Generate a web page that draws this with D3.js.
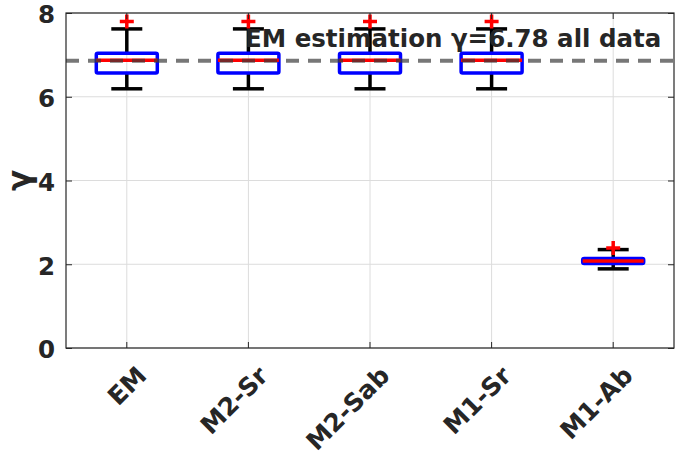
<!DOCTYPE html>
<html>
<head>
<meta charset="utf-8">
<script src="https://cdn.jsdelivr.net/npm/d3@7"></script>
<style>
  body { margin: 0; background: #fff; }
  svg text { font-family: "DejaVu Sans", sans-serif; font-weight: bold; fill: #262626; }
</style>
</head>
<body>
<div id="chart"></div>
<script>
// box plot of gamma estimates per method
const methods = ['EM', 'M2-Sr', 'M2-Sab', 'M1-Sr', 'M1-Ab'];
const q1 = [6.57, 6.57, 6.57, 6.57, 2.02];
const median = [6.87, 6.87, 6.87, 6.87, 2.08];
const q3 = [7.04, 7.04, 7.04, 7.04, 2.14];
const whiskerLow = [6.19, 6.19, 6.19, 6.19, 1.89];
const whiskerHigh = [7.62, 7.62, 7.62, 7.62, 2.35];
const outliers = [[7.80], [7.80], [7.80], [7.80], [2.39]];
const emLevel = 6.86;
const yTicks = [0, 2, 4, 6, 8];
const note = 'EM estimation \u03b3=6.78 all data';

const svgWidth = 684;
const svgHeight = 456;
const margin = { top: 13, right: 10, bottom: 108, left: 66 };
const width = svgWidth - margin.left - margin.right;
const height = svgHeight - margin.top - margin.bottom;

const boxes = methods.map((m, i) => ({
    method: m, q1: q1[i], median: median[i], q3: q3[i],
    lo: whiskerLow[i], hi: whiskerHigh[i], out: outliers[i]
}));

const svg = d3.select('#chart')
    .append('svg')
    .attr('width', svgWidth)
    .attr('height', svgHeight)
    .append('g')
    .attr('transform', `translate(${margin.left},${margin.top})`);

const xScale = d3.scaleBand()
    .domain(methods)
    .range([0, width]);
const yScale = d3.scaleLinear()
    .domain([0, 8])
    .range([height, 0]);

// grid
svg.append('g')
    .selectAll('line')
    .data(yTicks)
    .enter()
    .append('line')
    .attr('x1', 0).attr('x2', width)
    .attr('y1', d => yScale(d)).attr('y2', d => yScale(d))
    .attr('stroke', '#dcdcdc').attr('stroke-width', 1);
svg.append('g')
    .selectAll('line')
    .data(methods)
    .enter()
    .append('line')
    .attr('x1', d => xScale(d) + xScale.bandwidth() / 2)
    .attr('x2', d => xScale(d) + xScale.bandwidth() / 2)
    .attr('y1', 0).attr('y2', height)
    .attr('stroke', '#dcdcdc').attr('stroke-width', 1);

const boxW = 61;
const capW = 31;
const g = svg.selectAll('.box')
    .data(boxes)
    .enter()
    .append('g')
    .attr('class', 'box')
    .attr('transform', d => `translate(${xScale(d.method) + xScale.bandwidth() / 2},0)`);

g.append('line')
    .attr('x1', 0).attr('x2', 0)
    .attr('y1', d => yScale(d.hi)).attr('y2', d => yScale(d.q3))
    .attr('stroke', '#000').attr('stroke-width', 3.5);
g.append('line')
    .attr('x1', 0).attr('x2', 0)
    .attr('y1', d => yScale(d.q1)).attr('y2', d => yScale(d.lo))
    .attr('stroke', '#000').attr('stroke-width', 3.5);
g.append('line')
    .attr('x1', -capW / 2).attr('x2', capW / 2)
    .attr('y1', d => yScale(d.hi)).attr('y2', d => yScale(d.hi))
    .attr('stroke', '#000').attr('stroke-width', 3.5);
g.append('line')
    .attr('x1', -capW / 2).attr('x2', capW / 2)
    .attr('y1', d => yScale(d.lo)).attr('y2', d => yScale(d.lo))
    .attr('stroke', '#000').attr('stroke-width', 3.5);
g.append('rect')
    .attr('x', -boxW / 2)
    .attr('y', d => yScale(d.q3))
    .attr('width', boxW)
    .attr('height', d => yScale(d.q1) - yScale(d.q3))
    .attr('rx', 1.5)
    .attr('fill', 'none')
    .attr('stroke', '#0000ff').attr('stroke-width', 3.5);
g.append('line')
    .attr('x1', -boxW / 2).attr('x2', boxW / 2)
    .attr('y1', d => yScale(d.median)).attr('y2', d => yScale(d.median))
    .attr('stroke', '#ff0000').attr('stroke-width', 3.5);
g.selectAll('.out')
    .data(d => d.out)
    .enter()
    .append('path')
    .attr('class', 'out')
    .attr('d', v => `M-7,${yScale(v)}H7M0,${yScale(v) - 7}V${yScale(v) + 7}`)
    .attr('stroke', '#ff0000').attr('stroke-width', 3.5);

// EM reference line
svg.append('line')
    .attr('x1', 0).attr('x2', width)
    .attr('y1', yScale(emLevel)).attr('y2', yScale(emLevel))
    .attr('stroke', '#3a3a3a').attr('stroke-opacity', 0.69)
    .attr('stroke-width', 4)
    .attr('stroke-dasharray', '13,9');

svg.append('text')
    .attr('x', 245 - margin.left)
    .attr('y', 47 - margin.top)
    .attr('font-size', 24.5)
    .text(note);

// axes box
svg.append('rect')
    .attr('width', width).attr('height', height)
    .attr('fill', 'none').attr('stroke', '#262626').attr('stroke-width', 1.2);

const yAxis = svg.append('g')
    .call(d3.axisLeft(yScale).tickValues(yTicks).tickSize(-6).tickPadding(11));
yAxis.select('.domain').remove();
yAxis.selectAll('line').attr('stroke', '#262626');
yAxis.selectAll('text').attr('font-size', 24.5).attr('fill', '#262626').attr('dy', '0.4em');

const yRight = svg.append('g')
    .attr('transform', `translate(${width},0)`)
    .call(d3.axisRight(yScale).tickValues(yTicks).tickSize(-6).tickFormat(''));
yRight.select('.domain').remove();
yRight.selectAll('line').attr('stroke', '#262626');

const xAxis = svg.append('g')
    .attr('transform', `translate(0,${height})`)
    .call(d3.axisBottom(xScale).tickSize(-6).tickPadding(0));
xAxis.select('.domain').remove();
xAxis.selectAll('line').attr('stroke', '#262626');
xAxis.selectAll('text')
    .attr('font-size', 25)
    .attr('fill', '#262626')
    .attr('text-anchor', 'end')
    .attr('y', 0)
    .attr('dy', '0.35em')
    .attr('transform', 'translate(15,23) rotate(-45)');

const xTop = svg.append('g')
    .call(d3.axisTop(xScale).tickSize(-6).tickFormat(''));
xTop.select('.domain').remove();
xTop.selectAll('line').attr('stroke', '#262626');

svg.append('text')
    .attr('transform', `translate(${30 - margin.left},${yScale(4)}) rotate(-90)`)
    .attr('text-anchor', 'middle')
    .attr('font-size', 31)
    .text('\u03b3');
</script>
</body>
</html>
